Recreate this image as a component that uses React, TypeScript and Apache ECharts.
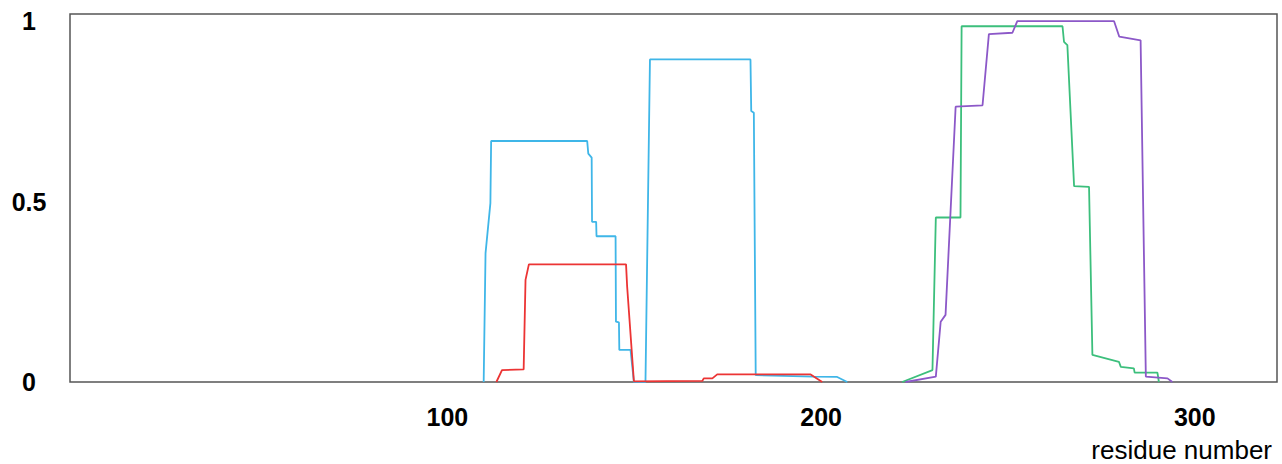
import React, { useEffect, useRef } from "react";
import * as echarts from "echarts";

// residue number, probability
const bluePoints: [number, number][] = [
  [109.7, 0], [110.2, 0.357], [111.5, 0.496], [111.7, 0.668], [137.4, 0.668],
  [137.7, 0.633], [138.6, 0.622], [138.7, 0.444], [139.8, 0.444], [139.9, 0.404],
  [145.0, 0.404], [145.1, 0.167], [145.9, 0.165], [146.0, 0.089], [149.0, 0.089],
  [149.9, 0], [153.0, 0], [154.2, 0.894], [181.1, 0.894], [181.3, 0.751],
  [182.0, 0.746], [182.5, 0.019], [198.0, 0.015], [204.3, 0.014], [207.0, 0],
];
const redPoints: [number, number][] = [
  [113.1, 0], [114.6, 0.033], [120.4, 0.035], [120.9, 0.283], [121.8, 0.326],
  [147.8, 0.326], [148.1, 0.264], [149.9, 0.002], [168.2, 0.003], [168.6, 0.01],
  [170.9, 0.01], [172.2, 0.021], [197.2, 0.021], [200.3, 0],
];
const greenPoints: [number, number][] = [
  [221.7, 0], [229.8, 0.033], [230.7, 0.456], [237.3, 0.456], [237.6, 0.986],
  [264.6, 0.986], [265.0, 0.943], [265.9, 0.934], [267.7, 0.543], [271.7, 0.541],
  [272.6, 0.075], [279.7, 0.056], [280.2, 0.042], [283.7, 0.038], [283.9, 0.026],
  [290.0, 0.026], [290.4, 0],
];
const purplePoints: [number, number][] = [
  [222.6, 0], [230.7, 0.015], [232.0, 0.167], [233.3, 0.186], [236.0, 0.763],
  [243.2, 0.767], [244.9, 0.964], [251.2, 0.968], [252.5, 1.0], [278.4, 1.0],
  [279.8, 0.957], [285.5, 0.947], [286.9, 0.015], [292.7, 0.01], [294.0, 0],
];
const xTickValues = [100, 200, 300];
const yTickValues = [0, 0.5, 1];
const xAxisTitle = "residue number";

export default function App() {
  const ref = useRef<HTMLDivElement>(null);
  useEffect(() => {
    if (!ref.current) return;
    const chart = echarts.init(ref.current, undefined, { renderer: "svg" });
    const lineSeries = (data: [number, number][], color: string) => ({
      type: "line",
      data,
      showSymbol: false,
      symbol: "none",
      lineStyle: { color, width: 1.8 },
      itemStyle: { color },
    });
    const labelStyle = {
      fontSize: 25,
      fontWeight: "bold",
      color: "#000",
      fontFamily: "Liberation Sans, Arial, sans-serif",
    };
    chart.setOption({
      animation: false,
      backgroundColor: "#fff",
      grid: {
        left: 70,
        right: 5,
        top: 14,
        bottom: 82,
        show: true,
        borderColor: "#555",
        borderWidth: 1.5,
        containLabel: false,
      },
      xAxis: {
        type: "value",
        min: -1,
        max: 322,
        axisLine: { show: false },
        axisTick: { show: false },
        splitLine: { show: false },
        axisLabel: {
          ...labelStyle,
          customValues: xTickValues,
          verticalAlign: "middle",
          margin: 35,
        },
      },
      yAxis: {
        type: "value",
        min: 0,
        max: 1.02,
        axisLine: { show: false },
        axisTick: { show: false },
        splitLine: { show: false },
        axisLabel: {
          ...labelStyle,
          customValues: yTickValues,
          align: "center",
          verticalAlign: "middle",
          margin: 41,
          padding: [7, 0, 0, 0],
          formatter: (v: number) => String(v),
        },
      },
      graphic: [
        {
          type: "text",
          right: 10,
          top: 437,
          style: {
            text: xAxisTitle,
            fontSize: 26,
            fill: "#000",
            fontFamily: "Liberation Sans, Arial, sans-serif",
          },
        },
      ],
      series: [
        lineSeries(bluePoints, "#3fb6e8"),
        lineSeries(redPoints, "#ec3434"),
        lineSeries(greenPoints, "#3cbf7c"),
        lineSeries(purplePoints, "#8c58c8"),
      ],
    });
    return () => chart.dispose();
  }, []);
  return (
    <div
      ref={ref}
      style={{ position: "absolute", left: 0, top: 0, width: 1282, height: 464 }}
    />
  );
}
